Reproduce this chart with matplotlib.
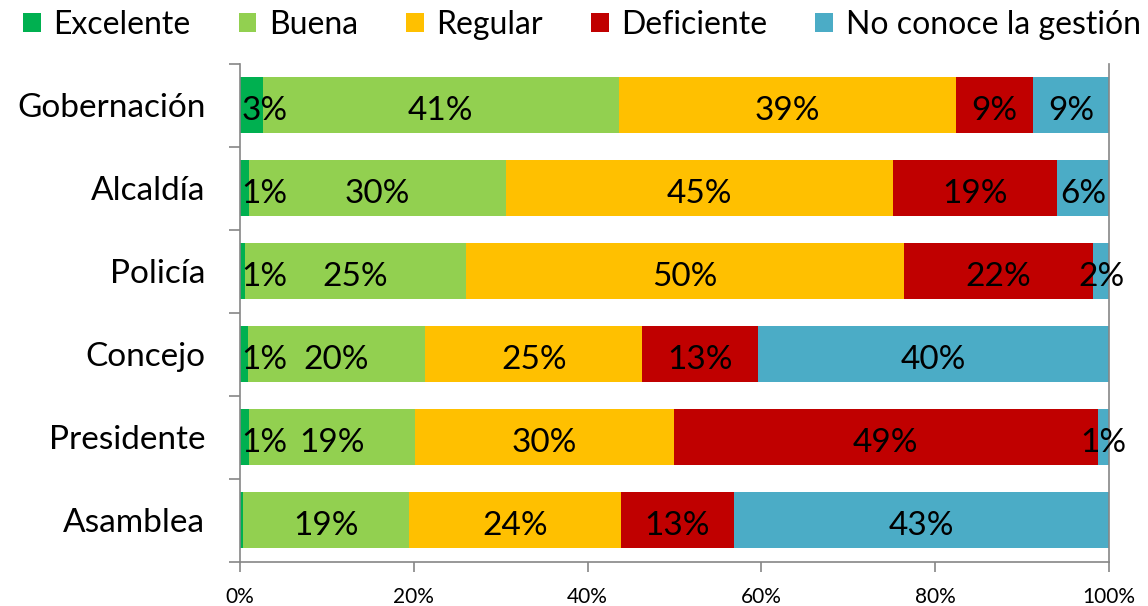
import matplotlib
matplotlib.use("Agg")
import matplotlib.pyplot as plt
from matplotlib.patches import Patch
import numpy as np

categories = ["Gobernación", "Alcaldía", "Policía", "Concejo", "Presidente", "Asamblea"]
series_names = ["Excelente", "Buena", "Regular", "Deficiente", "No conoce la gestión"]
excelente = [2.6, 1.0, 0.6, 0.9, 1.0, 0.4]
buena = [41.0, 29.6, 25.4, 20.4, 19.1, 19.1]
regular = [38.8, 44.6, 50.4, 25.0, 29.8, 24.4]
deficiente = [8.9, 18.8, 21.8, 13.3, 48.8, 12.9]
no_conoce = [8.7, 6.0, 1.8, 40.4, 1.3, 43.2]
colors = ["#00B050", "#92D050", "#FFC000", "#C00000", "#4BACC6"]
xticks = [0, 20, 40, 60, 80, 100]
xtick_labels = ["0%", "20%", "40%", "60%", "80%", "100%"]

plt.rcParams['font.family'] = ['Lato', 'DejaVu Sans']

fig = plt.figure(figsize=(11.48, 6.06), dpi=100)
ax = fig.add_axes([240/1148, 1-562/606, (1109-240)/1148, (562-63.5)/606])

series = [excelente, buena, regular, deficiente, no_conoce]
y = np.arange(len(categories))
left = np.zeros(len(categories))
label_fs = 24
for vals, col, name in zip(series, colors, series_names):
    vals = np.array(vals)
    ax.barh(y, vals, left=left, height=0.675, color=col, label=name, edgecolor='none')
    for i, v in enumerate(vals):
        if round(v) < 1:
            continue
        c = left[i] + v / 2
        txt = f"{int(round(v))}%"
        if c < 2.8:
            ax.text(0.2, y[i] + 0.07, txt, ha='left', va='center', fontsize=label_fs, color='black')
        else:
            ax.text(c, y[i] + 0.07, txt, ha='center', va='center', fontsize=label_fs, color='black')
    left = left + vals

ax.set_xlim(0, 100)
ax.set_ylim(len(categories) - 0.5, -0.5)
ax.set_yticks(y)
ax.set_yticklabels(categories, fontsize=24)
ax.set_yticks(np.arange(-0.5, len(categories)), minor=True)
ax.tick_params(axis='y', which='major', length=0, pad=25)
ax.tick_params(axis='y', which='minor', length=8, color='#868686', width=1.2, direction='out')
ax.set_xticks(xticks)
ax.set_xticklabels(xtick_labels, fontsize=15)
ax.tick_params(axis='x', length=7, color='#868686', width=1.2, pad=11)
for s in ['left', 'bottom', 'right']:
    ax.spines[s].set_color('#868686')
    ax.spines[s].set_linewidth(1.2)
ax.spines['top'].set_visible(False)

handles = [Patch(facecolor=c, edgecolor='none') for c in colors]
fig.legend(handles, series_names, loc='center', bbox_to_anchor=(0.507, 1-25/606), ncol=5,
           frameon=False, fontsize=23, handlelength=0.55, handleheight=0.55,
           handletextpad=0.4, columnspacing=1.5, borderaxespad=0)

fig.savefig("out.png", dpi=100)
